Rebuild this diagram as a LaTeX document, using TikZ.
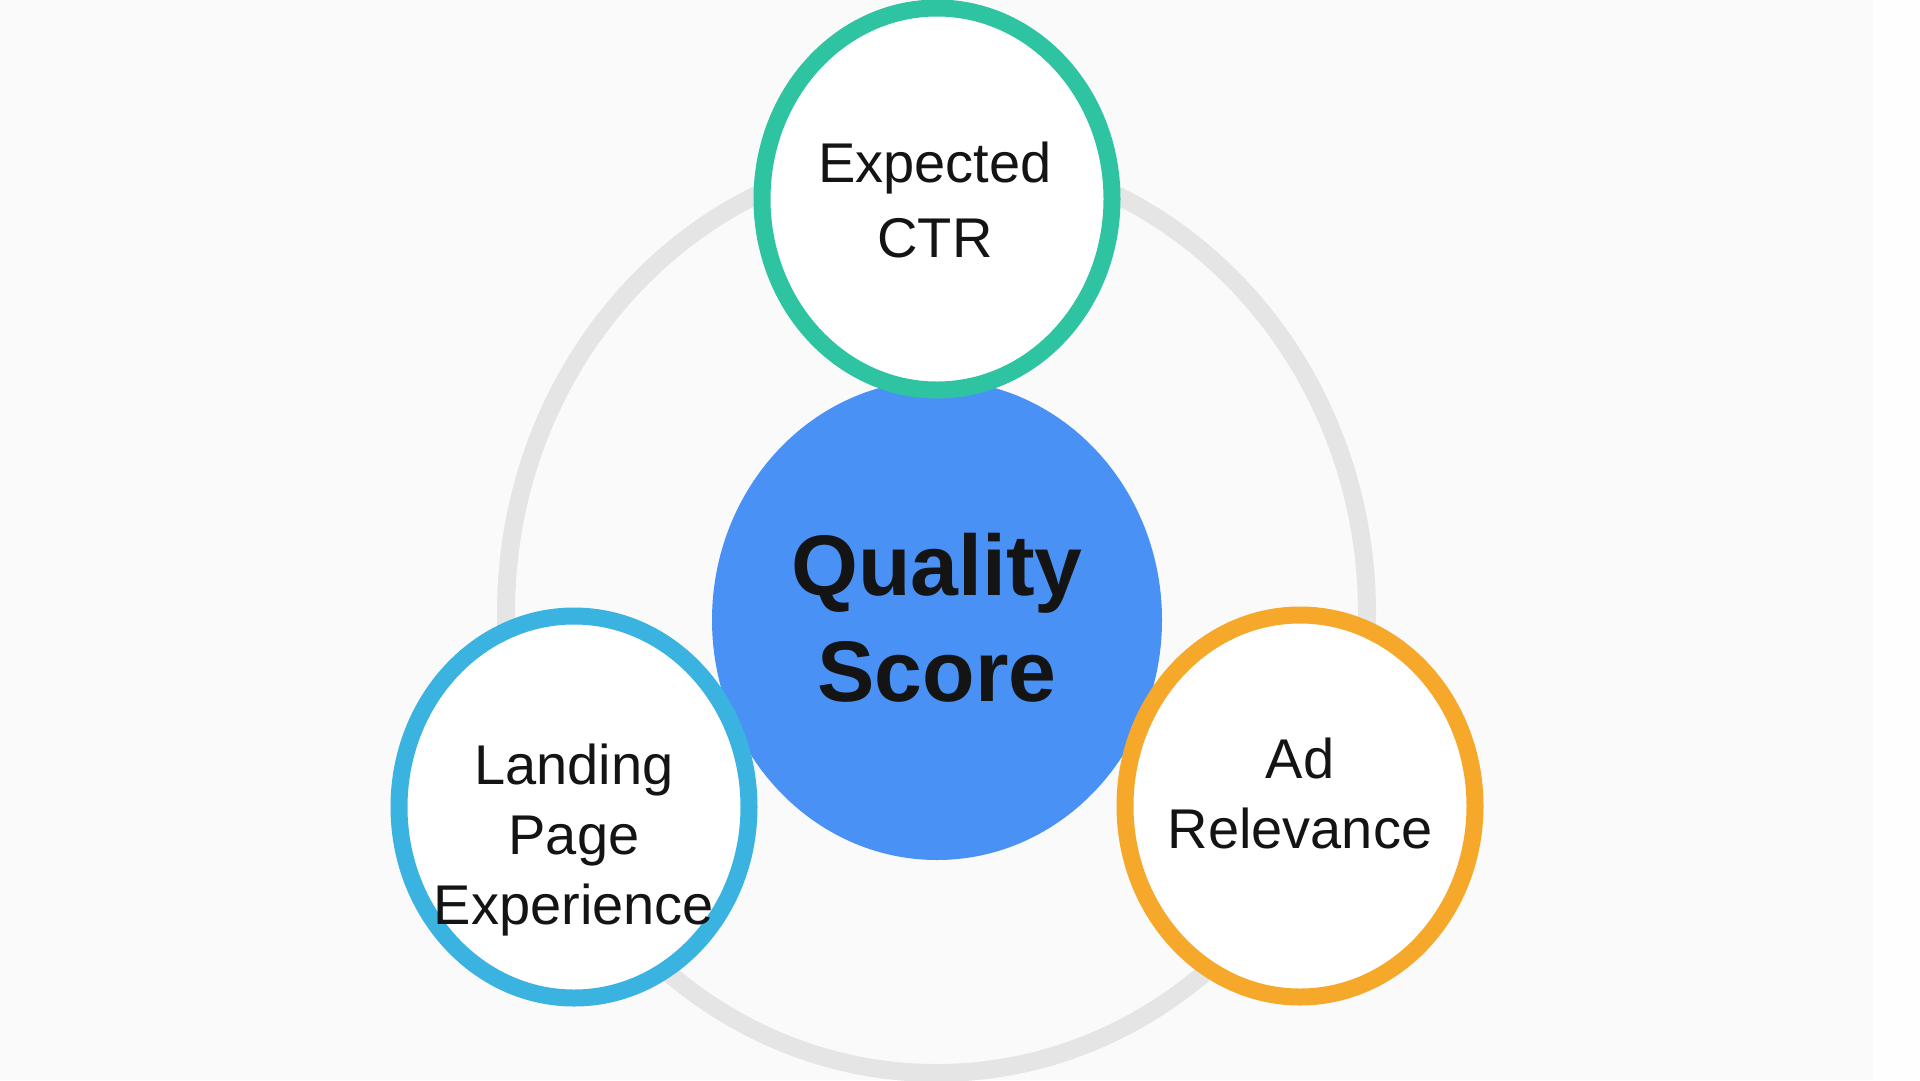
\documentclass[tikz,border=0pt]{standalone}
\usepackage{fontspec}
\setmainfont{Liberation Sans}
\usetikzlibrary{shapes.geometric}
\definecolor{bgc}{HTML}{FAFAFA}
\definecolor{bgr}{HTML}{FEFEFE}
\definecolor{ringc}{HTML}{E5E5E5}
\definecolor{qsblue}{HTML}{4A91F5}
\definecolor{ctrc}{HTML}{2EC4A1}
\definecolor{lpec}{HTML}{3BB3E1}
\definecolor{adc}{HTML}{F6A82B}
\definecolor{txt}{HTML}{141414}
\begin{document}
\begin{tikzpicture}[x=1pt,y=-1pt,
  bubble/.style={ellipse, draw, line width=17pt, fill=white,
    minimum width=350pt, minimum height=382pt, inner sep=0pt},
  lbl/.style={align=center, text=txt, inner sep=0pt,
    font=\fontsize{56}{70}\selectfont},
  qslbl/.style={align=center, text=txt, inner sep=0pt,
    font=\fontsize{86}{106}\selectfont\bfseries}
]
\useasboundingbox (0,0) rectangle (1920,1080);
\fill[bgc] (0,0) rectangle (1920,1080);
\fill[bgr] (1873,0) rectangle (1920,1080);
\draw[ringc, line width=18pt] (936.5,613) ellipse [x radius=430.5pt, y radius=460pt];
\node[ellipse, fill=qsblue, minimum width=450pt, minimum height=480pt, inner sep=0pt] (qs) at (937,620) {};
\node[bubble, draw=ctrc] (ctr) at (937,199) {};
\node[bubble, draw=lpec] (lpe) at (574,807) {};
\node[bubble, draw=adc] (ad) at (1300,806) {};
\node[qslbl] (qst) at (937,618) {Quality\\Score};
\node[lbl, font=\fontsize{56}{75}\selectfont] (ctrt) at (935,200) {Expected\\CTR};
\node[lbl] (lpet) at (574,840) {Landing\\Page\\Experience};
\node[lbl] (adt) at (1300,793) {Ad\\Relevance};
\end{tikzpicture}
\end{document}
